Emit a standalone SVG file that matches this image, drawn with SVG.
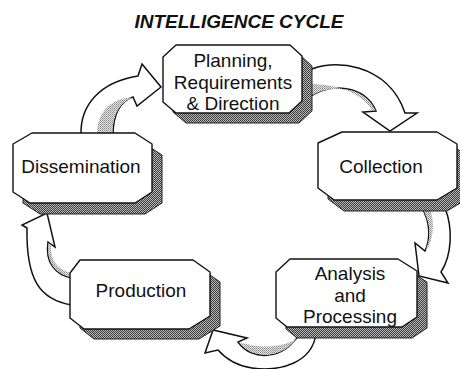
<svg xmlns="http://www.w3.org/2000/svg" width="460" height="369" viewBox="0 0 460 369">
<defs>
<pattern id="dither" width="2" height="2" patternUnits="userSpaceOnUse">
<rect width="2" height="2" fill="#b8b8b8"/>
<rect width="1" height="1" fill="#3c3c3c"/>
<rect x="1" y="1" width="1" height="1" fill="#3c3c3c"/>
</pattern>
<pattern id="light" width="2" height="2" patternUnits="userSpaceOnUse">
<rect width="2" height="2" fill="#e2e2e2"/>
<rect width="1" height="1" fill="#8a8a8a"/>
<rect x="1" y="1" width="1" height="1" fill="#a8a8a8"/>
</pattern>
</defs>
<style>
.face{fill:#fff;stroke:#111;stroke-width:1.4;stroke-linejoin:round}
.shadow{fill:url(#dither);stroke:#222;stroke-width:1}
.arrow{fill:#fff;stroke:#111;stroke-width:1.5;stroke-linejoin:miter}
.side{fill:url(#light);stroke:none}
.lbl{font-family:"Liberation Sans",Arial,sans-serif;font-size:19px;fill:#111;text-anchor:middle}
.title{font-family:"Liberation Sans",Arial,sans-serif;font-size:19px;font-weight:bold;font-style:italic;fill:#111;text-anchor:middle}
</style>
<rect width="460" height="369" fill="#fff"/>
<text class="title" x="239" y="28">INTELLIGENCE CYCLE</text>

<g id="connectors">
<g id="arrow-dissemination-planning">
<path class="arrow" d="M81,135 C80,105 100,82 138,76 L142,64 L161,87 L137,106 L133,97 C120,101 113,115 113,135 Z"/>
<path class="side" d="M97,134 C97,113 110,99 130,97.5 L132,98 C120,102 112.5,115 112.5,134 Z"/>
</g>
<g id="arrow-planning-collection">
<path class="arrow" d="M308,71 C330,58 388,62 405,113 L417,113 L390,131 L363,112 L376,111 C365,85 330,82 308,98 Z"/>
<path class="side" d="M309,84 C335,84 362,92 372,110.5 L375.5,110.5 C365,86 330,83 309,97 Z"/>
</g>
<g id="arrow-collection-analysis">
<path class="arrow" d="M445,208 C453,228 452,255 441,272 L448,283 L419,276 L415,243 L425,251 C431,238 430,222 422,208 Z"/>
<path class="side" d="M422.5,209 C430.5,222 431.5,238 425.5,250 L429,246 C434,234 434,220 430,209 Z"/>
</g>
<g id="arrow-analysis-production">
<path class="arrow" d="M316,334 C312,362 282,372 252,368 C238,366 226,359 218,350 L205,353 L213,330 L247,338 L238,342 C252,362 285,360 300,333 Z"/>
<path class="side" d="M239,342.5 C253,360.5 285,359.5 300,334 L307,330 C297,343 272,351 247,344 Z"/>
</g>
<g id="arrow-production-dissemination">
<path class="arrow" d="M72,305 C40,300 26,280 27,228 L22,225 L47,213 L55,247 L48,242 C45,262 55,275 72,278 Z"/>
<path class="side" d="M48.5,243 C46,262 55,274 71,277 L71,273 C58,270 50,260 51,245 Z"/>
</g>
</g>

<g id="node-planning">
<polygon class="shadow" transform="translate(10,10)" points="176,45 290,45 302,56 302,101 289,113 176,113 163,102 163,57"/>
<polygon class="face" points="176,45 290,45 302,56 302,101 289,113 176,113 163,102 163,57"/>
<text class="lbl" x="233" y="67">Planning,</text>
<text class="lbl" x="233" y="89">Requirements</text>
<text class="lbl" x="233" y="110">&amp; Direction</text>
</g>
<g id="node-collection">
<polygon class="shadow" transform="translate(10,11)" points="342,132 437,132 457,144 457,188 437,200 334,200 318,188 318,143"/>
<polygon class="face" points="342,132 437,132 457,144 457,188 437,200 334,200 318,188 318,143"/>
<text class="lbl" x="381" y="173">Collection</text>
</g>
<g id="node-analysis">
<polygon class="shadow" transform="translate(10,11)" points="290,259 398,259 417,271 417,317 402,327 287,327 276,318 276,272"/>
<polygon class="face" points="290,259 398,259 417,271 417,317 402,327 287,327 276,318 276,272"/>
<text class="lbl" x="350" y="280">Analysis</text>
<text class="lbl" x="350" y="302">and</text>
<text class="lbl" x="350" y="323">Processing</text>
</g>
<g id="node-production">
<polygon class="shadow" transform="translate(10,10)" points="80,260 193,260 210,272 210,316 189,329 84,329 70,318 70,273"/>
<polygon class="face" points="80,260 193,260 210,272 210,316 189,329 84,329 70,318 70,273"/>
<text class="lbl" x="141" y="297">Production</text>
</g>
<g id="node-dissemination">
<polygon class="shadow" transform="translate(10,11)" points="32,133 135,133 152,144 152,192 135,203 30,203 13,192 13,144"/>
<polygon class="face" points="32,133 135,133 152,144 152,192 135,203 30,203 13,192 13,144"/>
<text class="lbl" x="81" y="173">Dissemination</text>
</g>
</svg>
